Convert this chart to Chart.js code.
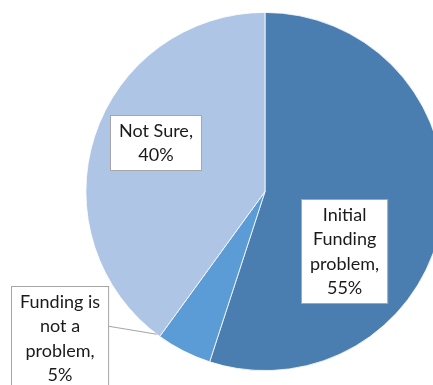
<!DOCTYPE html>
<html>
<head>
<meta charset="utf-8">
<script src="https://cdn.jsdelivr.net/npm/chart.js@4/dist/chart.umd.min.js"></script>
<style>
  html, body { margin: 0; padding: 0; background: #ffffff; }
  #wrap { width: 433px; height: 385px; overflow: hidden; position: relative; }
  canvas { display: block; }
</style>
</head>
<body>
<div id="wrap"><canvas id="pie" width="530" height="385"></canvas></div>
<script>
// Survey answers on funding, as shares of respondents (%)
const categories = ['Initial Funding problem', 'Funding is not a problem', 'Not Sure'];
const shares = [55, 5, 40];
const labelLines = [
  ['Initial', 'Funding', 'problem,'],
  ['Funding is', 'not a', 'problem,'],
  ['Not Sure,']
];

const sliceColors = ['#4a7eb1', '#5b9bd6', '#aec5e6'];
// Label box centre, in units of the pie radius from the pie centre
const labelPlacement = [[0.443, 0.331], [-1.145, 0.816], [-0.613, -0.275]];
const FONT = '18px Lato, "Open Sans", sans-serif';
const LINE_H = 24.5;
const PAD_Y = 3;
const PAD_X = 8.5;

const boxLabels = {
  id: 'boxLabels',
  afterDatasetsDraw(chart) {
    const ctx = chart.ctx;
    const meta = chart.getDatasetMeta(0);
    ctx.save();
    ctx.font = FONT;
    meta.data.forEach((arc, i) => {
      const { x: cx, y: cy, outerRadius: r, endAngle } = arc.getProps(['x', 'y', 'outerRadius', 'endAngle'], true);
      const lines = labelLines[i].concat([shares[i] + '%']);
      const w = Math.max(...lines.map(l => ctx.measureText(l).width)) + 2 * PAD_X;
      const h = lines.length * LINE_H + 2 * PAD_Y;
      const bx = cx + labelPlacement[i][0] * r;
      const by = cy + labelPlacement[i][1] * r;
      const left = Math.round(bx - w / 2) + 0.5;
      const top = Math.round(by - h / 2) + 0.5;

      // leader line for labels sitting outside the pie
      if (Math.hypot(bx - cx, by - cy) > r) {
        const a = endAngle + 0.02;
        ctx.beginPath();
        ctx.strokeStyle = '#a6a6a6';
        ctx.lineWidth = 1.2;
        ctx.moveTo(left + w, top + PAD_Y + LINE_H * 1.5);
        ctx.lineTo(cx + r * Math.cos(a), cy + r * Math.sin(a));
        ctx.stroke();
      }

      ctx.fillStyle = '#ffffff';
      ctx.fillRect(left, top, w, h);
      ctx.strokeStyle = '#a6a6a6';
      ctx.lineWidth = 1;
      ctx.strokeRect(left, top, w, h);

      ctx.fillStyle = '#1a1a1a';
      ctx.textAlign = 'center';
      ctx.textBaseline = 'middle';
      lines.forEach((l, k) => {
        ctx.fillText(l, left + w / 2, top + PAD_Y + LINE_H * (k + 0.5));
      });
    });
    ctx.restore();
  }
};

new Chart(document.getElementById('pie'), {
  type: 'pie',
  data: {
    labels: categories,
    datasets: [{
      data: shares,
      backgroundColor: sliceColors,
      borderColor: '#ffffff',
      borderWidth: 0.8
    }]
  },
  options: {
    responsive: false,
    animation: false,
    layout: { padding: { top: 12, bottom: 14, left: 0, right: 0 } },
    plugins: {
      legend: { display: false },
      tooltip: { enabled: false }
    }
  },
  plugins: [boxLabels]
});
</script>
</body>
</html>
